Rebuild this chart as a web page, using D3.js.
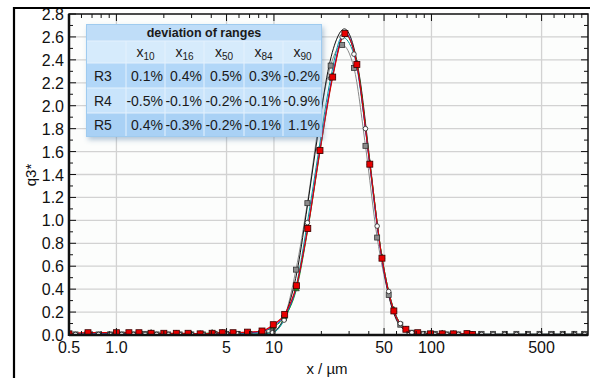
<!DOCTYPE html>
<html>
<head>
<meta charset="utf-8">
<script src="https://cdn.jsdelivr.net/npm/d3@7"></script>
<style>
  body { margin: 0; background: #fff; }
  svg { display: block; font-family: "Liberation Sans", Arial, sans-serif; }
</style>
</head>
<body>
<svg id="chart" width="595" height="378"></svg>
<script>
// axis ticks
const xTickValues = [0.5, 1, 5, 10, 50, 100, 500];
const xTickLabels = ["0.5", "1.0", "5", "10", "50", "100", "500"];
const xGridValues = [1, 5, 10, 50, 100, 500];
const xMinorValues = [0.6, 0.7, 0.8, 0.9, 2, 3, 4, 6, 7, 8, 9, 20, 30, 40, 60, 70, 80, 90, 200, 300, 400, 600, 700, 800, 900];
const yTickValues = [0, 0.2, 0.4, 0.6, 0.8, 1.0, 1.2, 1.4, 1.6, 1.8, 2.0, 2.2, 2.4, 2.6, 2.8];
const yMinorValues = [0.1, 0.3, 0.5, 0.7, 0.9, 1.1, 1.3, 1.5, 1.7, 1.9, 2.1, 2.3, 2.5, 2.7];

// table
const tableTitle = "deviation of ranges";
const tableCols = ["10", "16", "50", "84", "90"];
const tableRows = ["R3", "R4", "R5"];
const devR3 = ["0.1%", "0.4%", "0.5%", "0.3%", "-0.2%"];
const devR4 = ["-0.5%", "-0.1%", "-0.2%", "-0.1%", "-0.9%"];
const devR5 = ["0.4%", "-0.3%", "-0.2%", "-0.1%", "1.1%"];

// measured distributions, q3* over x / µm
const xFine = [0.5, 0.66, 1.0, 1.2, 1.39, 1.66, 2.0, 2.4, 2.85, 3.4, 4.05, 4.7, 5.5, 6.8, 8.4, 9.9, 11.7, 13.9, 16.4, 19.6, 23.6, 28.2, 33.6, 40.6, 48.5, 57.7, 68.8, 81.8, 98.5, 117, 138, 168, 182];
const qRed = [0.01, 0.02, 0.02, 0.02, 0.02, 0.015, 0.015, 0.015, 0.015, 0.01, 0.015, 0.02, 0.02, 0.025, 0.035, 0.09, 0.18, 0.43, 0.93, 1.61, 2.25, 2.63, 2.36, 1.49, 0.67, 0.21, 0.05, 0.02, 0.01, 0.01, 0.01, 0.012, 0.005];
const qGreen = [0.01, 0.01, 0.015, 0.015, 0.01, 0.02, 0.01, 0.015, 0.01, 0.01, 0.02, 0.02, 0.015, 0.02, 0.03, 0.07, 0.16, 0.40, 0.92, 1.60, 2.26, 2.62, 2.37, 1.50, 0.68, 0.22, 0.05, 0.015, 0.01, 0.015, 0.01, 0.01, 0.005];
const qBlue = [0.01, 0.01, 0.01, 0.01, 0.01, 0.01, 0.01, 0.01, 0.01, 0.01, 0.01, 0.015, 0.015, 0.02, 0.03, 0.08, 0.17, 0.42, 0.94, 1.62, 2.27, 2.64, 2.35, 1.48, 0.66, 0.21, 0.05, 0.015, 0.01, 0.01, 0.01, 0.01, 0.005];

const xCoarse = [0.55, 0.65, 0.77, 0.91, 1.08, 1.28, 1.52, 1.8, 2.13, 2.52, 2.99, 3.54, 4.2, 4.97, 5.89, 6.98, 8.27, 9.8, 11.6, 13.8, 16.3, 19.3, 22.9, 27.1, 32.2, 38.1, 45.2, 53.5, 63.4, 75.1, 89, 105, 125, 148, 175, 208, 246, 292, 346, 410, 485, 575, 681, 807, 940];
const qGray = [0.005, 0.005, 0.005, 0.005, 0.005, 0.005, 0.01, 0.005, 0.005, 0.005, 0.005, 0.005, 0.01, 0.01, 0.01, 0.01, 0.015, 0.03, 0.15, 0.57, 1.15, 1.85, 2.35, 2.53, 2.33, 1.65, 0.85, 0.35, 0.09, 0.02, 0.01, 0.01, 0.005, 0.005, 0.005, 0.01, 0.01, 0.01, 0.01, 0.01, 0.01, 0.01, 0.01, 0.01, 0.01];
const qWhite = [0.005, 0.005, 0.005, 0.005, 0.005, 0.005, 0.005, 0.005, 0.005, 0.005, 0.005, 0.005, 0.005, 0.01, 0.01, 0.01, 0.01, 0.02, 0.13, 0.42, 0.98, 1.62, 2.24, 2.6, 2.45, 1.8, 0.95, 0.38, 0.1, 0.02, 0.01, 0.005, 0.005, 0.005, 0.005, 0.005, 0.005, 0.005, 0.005, 0.005, 0.005, 0.005, 0.005, 0.005, 0.005];

// fitted curve
const xFit = [9.4, 10.5, 12, 14, 16, 19, 22, 25, 28, 31, 35, 40, 45, 50, 55, 60, 70, 80];
const qFit = [0, 0.05, 0.2, 0.55, 1.05, 1.75, 2.3, 2.58, 2.67, 2.58, 2.25, 1.6, 1.0, 0.55, 0.28, 0.13, 0.03, 0];

const svg = d3.select("#chart");
const width = +svg.attr("width");
const height = +svg.attr("height");

const plotLeft = 69, plotRight = 588, plotTop = 14, plotBottom = 335;

const x = d3.scaleLog().domain([0.5, 1000]).range([plotLeft, plotRight + 1]);
const y = d3.scaleLinear().domain([0, 2.8]).range([plotBottom, plotTop]);

const defs = svg.append("defs");
defs.append("clipPath").attr("id", "plotClip")
    .append("rect")
    .attr("x", plotLeft).attr("y", plotTop)
    .attr("width", plotRight - plotLeft).attr("height", plotBottom - plotTop);
const shadow = defs.append("filter").attr("id", "tblShadow")
    .attr("x", "-10%").attr("y", "-10%").attr("width", "130%").attr("height", "140%");
shadow.append("feDropShadow")
    .attr("dx", 2).attr("dy", 3).attr("stdDeviation", 2.5)
    .attr("flood-color", "#5d86ad").attr("flood-opacity", 0.45);

// plot background
svg.append("rect")
    .attr("x", plotLeft).attr("y", plotTop)
    .attr("width", plotRight - plotLeft).attr("height", plotBottom - plotTop)
    .attr("fill", "#fcfdfc");

// grid
svg.append("g")
    .selectAll("line")
    .data(yTickValues.filter(d => d > 0 && d < 2.8))
    .join("line")
    .attr("x1", plotLeft).attr("x2", plotRight)
    .attr("y1", d => y(d)).attr("y2", d => y(d))
    .attr("stroke", "#d2d2d2").attr("stroke-width", 1.3);

svg.append("g")
    .selectAll("line")
    .data(xGridValues)
    .join("line")
    .attr("x1", d => x(d)).attr("x2", d => x(d))
    .attr("y1", plotTop).attr("y2", plotBottom)
    .attr("stroke", "#d2d2d2").attr("stroke-width", 1.3);

// curves
const plot = svg.append("g").attr("clip-path", "url(#plotClip)");

function drawLine(xs, qs, color, w) {
    const pts = xs.map((d, i) => [x(d), y(qs[i])]);
    plot.append("path")
        .attr("d", d3.line().curve(d3.curveMonotoneX)(pts))
        .attr("fill", "none")
        .attr("stroke", color)
        .attr("stroke-width", w);
}

drawLine(xCoarse, qGray, "#8a8a8a", 1);
drawLine(xFit, qFit, "#111", 1);
drawLine(xCoarse, qWhite, "#009a9a", 1);
drawLine(xFine, qGreen, "#10a010", 1);
drawLine(xFine, qBlue, "#2030ff", 1);
drawLine(xFine, qRed, "#e00000", 1.2);

// markers
plot.append("g").selectAll("rect")
    .data(xCoarse.map((d, i) => [d, qGray[i]]))
    .join("rect")
    .attr("x", d => x(d[0]) - 2.5).attr("y", d => y(d[1]) - 2.5)
    .attr("width", 5).attr("height", 5)
    .attr("fill", "#8c8c8c").attr("stroke", "#333").attr("stroke-width", 0.8);

plot.append("g").selectAll("circle")
    .data(xCoarse.map((d, i) => [d, qWhite[i]]))
    .join("circle")
    .attr("cx", d => x(d[0])).attr("cy", d => y(d[1]))
    .attr("r", 2.3)
    .attr("fill", "#fff").attr("stroke", "#222").attr("stroke-width", 0.8);

plot.append("g").selectAll("path")
    .data(xFine.map((d, i) => [d, qGreen[i]]))
    .join("path")
    .attr("d", d3.symbol(d3.symbolTriangle, 14))
    .attr("transform", d => `translate(${x(d[0])},${y(d[1])})`)
    .attr("fill", "#1a9a1a").attr("stroke", "#222").attr("stroke-width", 0.6);

plot.append("g").selectAll("rect")
    .data(xFine.map((d, i) => [d, qRed[i]]))
    .join("rect")
    .attr("x", d => x(d[0]) - 3).attr("y", d => y(d[1]) - 3)
    .attr("width", 6).attr("height", 6)
    .attr("fill", "#e80000").attr("stroke", "#3a0000").attr("stroke-width", 0.8);

// ticks (inside)
const ticks = svg.append("g").attr("stroke", "#111").attr("stroke-width", 1);
yTickValues.forEach(d => {
    ticks.append("line").attr("x1", plotLeft).attr("x2", plotLeft + 7).attr("y1", y(d)).attr("y2", y(d));
    ticks.append("line").attr("x1", plotRight - 7).attr("x2", plotRight).attr("y1", y(d)).attr("y2", y(d));
});
yMinorValues.forEach(d => {
    ticks.append("line").attr("x1", plotLeft).attr("x2", plotLeft + 4).attr("y1", y(d)).attr("y2", y(d));
    ticks.append("line").attr("x1", plotRight - 4).attr("x2", plotRight).attr("y1", y(d)).attr("y2", y(d));
});
xGridValues.forEach(d => {
    ticks.append("line").attr("x1", x(d)).attr("x2", x(d)).attr("y1", plotBottom).attr("y2", plotBottom - 7);
    ticks.append("line").attr("x1", x(d)).attr("x2", x(d)).attr("y1", plotTop).attr("y2", plotTop + 7);
});
xMinorValues.forEach(d => {
    ticks.append("line").attr("x1", x(d)).attr("x2", x(d)).attr("y1", plotBottom).attr("y2", plotBottom - 4);
    ticks.append("line").attr("x1", x(d)).attr("x2", x(d)).attr("y1", plotTop).attr("y2", plotTop + 4);
});

// plot frame
svg.append("rect")
    .attr("x", plotLeft).attr("y", plotTop)
    .attr("width", plotRight - plotLeft).attr("height", plotBottom - plotTop)
    .attr("fill", "none").attr("stroke", "#111").attr("stroke-width", 1.5);
svg.append("line")
    .attr("x1", plotLeft).attr("x2", plotLeft).attr("y1", plotTop).attr("y2", plotBottom + 1)
    .attr("stroke", "#111").attr("stroke-width", 2.5);
svg.append("line")
    .attr("x1", plotLeft).attr("x2", plotRight).attr("y1", plotBottom).attr("y2", plotBottom)
    .attr("stroke", "#111").attr("stroke-width", 2.5);

// tick labels
svg.append("g").selectAll("text")
    .data(yTickValues)
    .join("text")
    .attr("x", plotLeft - 5)
    .attr("y", d => y(d) + 6)
    .attr("text-anchor", "end")
    .style("font-size", "16px")
    .style("fill", "#111")
    .text(d => d3.format(".1f")(d));

svg.append("g").selectAll("text")
    .data(xTickValues)
    .join("text")
    .attr("x", d => x(d))
    .attr("y", 353)
    .attr("text-anchor", "middle")
    .style("font-size", "16px")
    .style("fill", "#111")
    .text((d, i) => xTickLabels[i]);

svg.append("text")
    .attr("transform", "translate(36,175) rotate(-90)")
    .attr("text-anchor", "middle")
    .style("font-size", "15px")
    .style("fill", "#111")
    .text("q3*");

svg.append("text")
    .attr("x", 327).attr("y", 374)
    .attr("text-anchor", "middle")
    .style("font-size", "15px")
    .style("fill", "#111")
    .text("x / µm");

// outer frame (left and top)
svg.append("line").attr("x1", 14).attr("x2", 14).attr("y1", 7).attr("y2", height)
    .attr("stroke", "#000").attr("stroke-width", 2.2);
svg.append("line").attr("x1", 13).attr("x2", 590).attr("y1", 8).attr("y2", 8)
    .attr("stroke", "#000").attr("stroke-width", 2.2);

// deviation table
const colX = [86, 126, 165, 204, 244, 283, 322];
const rowY = [24, 41, 63, 88, 113, 137];
const rowFill = ["#bfddf8", "#d6ebfc", "#b2d7f8", "#c9e4fb", "#a9d1f5"];
const devRows = [devR3, devR4, devR5];

const tbl = svg.append("g");
tbl.append("rect")
    .attr("x", colX[0]).attr("y", rowY[0])
    .attr("width", colX[6] - colX[0]).attr("height", rowY[5] - rowY[0])
    .attr("fill", "#c3dff8")
    .attr("filter", "url(#tblShadow)");

tbl.selectAll(".rowBg")
    .data(rowFill)
    .join("rect")
    .attr("class", "rowBg")
    .attr("x", colX[0]).attr("y", (d, i) => rowY[i])
    .attr("width", colX[6] - colX[0]).attr("height", (d, i) => rowY[i + 1] - rowY[i])
    .attr("fill", d => d);

// cell lines
tbl.selectAll(".hLine")
    .data(rowY.slice(1, 5))
    .join("line")
    .attr("class", "hLine")
    .attr("x1", colX[0]).attr("x2", colX[6])
    .attr("y1", d => d).attr("y2", d => d)
    .attr("stroke", "#e4f1fd").attr("stroke-width", 1);
tbl.selectAll(".vLine")
    .data(colX.slice(1, 6))
    .join("line")
    .attr("class", "vLine")
    .attr("x1", d => d).attr("x2", d => d)
    .attr("y1", rowY[1]).attr("y2", rowY[5])
    .attr("stroke", "#e4f1fd").attr("stroke-width", 1);
tbl.append("rect")
    .attr("x", colX[0] + 0.5).attr("y", rowY[0] + 0.5)
    .attr("width", colX[6] - colX[0] - 1).attr("height", rowY[5] - rowY[0] - 1)
    .attr("fill", "none").attr("stroke", "#9fcbef").attr("stroke-width", 1);

tbl.append("text")
    .attr("x", (colX[0] + colX[6]) / 2).attr("y", 37)
    .attr("text-anchor", "middle")
    .style("font-size", "12.5px").style("font-weight", "bold").style("fill", "#1a1a1a")
    .text(tableTitle);

tableCols.forEach((c, j) => {
    const t = tbl.append("text")
        .attr("x", (colX[j + 1] + colX[j + 2]) / 2).attr("y", 57)
        .attr("text-anchor", "middle")
        .style("font-size", "14px").style("fill", "#1a1a1a");
    t.append("tspan").text("x");
    t.append("tspan").attr("dy", 3).style("font-size", "10px").text(c);
});

tableRows.forEach((r, i) => {
    const yb = (rowY[i + 2] + rowY[i + 3]) / 2 + 5;
    tbl.append("text")
        .attr("x", 94).attr("y", yb)
        .style("font-size", "14px").style("fill", "#1a1a1a")
        .text(r);
    devRows[i].forEach((v, j) => {
        tbl.append("text")
            .attr("x", colX[j + 2] - 2).attr("y", yb)
            .attr("text-anchor", "end")
            .style("font-size", "14px").style("fill", "#1a1a1a")
            .text(v);
    });
});
</script>
</body>
</html>
